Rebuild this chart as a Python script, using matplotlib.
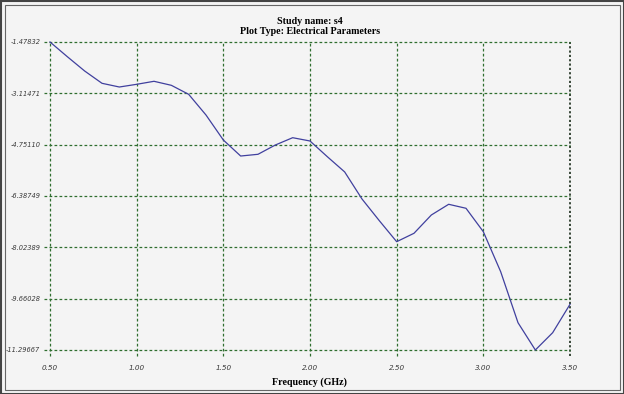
import numpy as np
import matplotlib
matplotlib.use('Agg')
import matplotlib.pyplot as plt
from matplotlib.patches import Rectangle

# Frequency sweep (GHz) and response
freq = [0.5, 0.6, 0.7, 0.8, 0.9, 1.0, 1.1, 1.2, 1.3, 1.4, 1.5,
        1.6, 1.7, 1.8, 1.9, 2.0, 2.1, 2.2, 2.3, 2.4, 2.5,
        2.6, 2.7, 2.8, 2.9, 3.0, 3.1, 3.2, 3.3, 3.4, 3.5]
value = [-1.478, -1.947, -2.403, -2.795, -2.913, -2.827, -2.731, -2.859, -3.146, -3.806, -4.603,
         -5.113, -5.058, -4.762, -4.529, -4.634, -5.135, -5.62, -6.483, -7.175, -7.844,
         -7.576, -6.993, -6.652, -6.779, -7.526, -8.80, -10.426, -11.29667, -10.745, -9.84]

xticks = [0.5, 1.0, 1.5, 2.0, 2.5, 3.0, 3.5]
xlabels = ['0.50', '1.00', '1.50', '2.00', '2.50', '3.00', '3.50']
yticks = [-1.47832, -3.11471, -4.75110, -6.38749, -8.02389, -9.66028, -11.29667]
ylabels = ['-1.47832', '-3.11471', '-4.75110', '-6.38749', '-8.02389', '-9.66028', '-11.29667']

bg = '#f4f4f4'
grid_col = '#2f6e2f'

fig = plt.figure(figsize=(6.24, 3.94), dpi=100, facecolor=bg)
ax = fig.add_axes([50/624, 1-350/394, 520/624, 308/394])
ax.set_facecolor(bg)

# double frame round the picture
fig.patches.append(Rectangle((0.5/624, 0.5/394), 623/624, 393/394, transform=fig.transFigure,
                             fill=False, edgecolor='#444444', linewidth=1.5))
fig.patches.append(Rectangle((4.5/624, 4.5/394), 615/624, 385/394, transform=fig.transFigure,
                             fill=False, edgecolor='#666666', linewidth=0.8))

ax.set_xlim(0.5, 3.5)
ax.set_ylim(yticks[-1], yticks[0])

for s in ax.spines.values():
    s.set_visible(False)

dots = (0, (2.2, 1.8))
for x in xticks[:-1]:
    ax.axvline(x, ymin=-0.018, ymax=1, color=grid_col, linestyle=dots, linewidth=0.9, clip_on=False)
ax.axvline(3.5, ymin=-0.018, ymax=1, color='#2a3a2a', linestyle=(0, (1.2, 1.2)), linewidth=1.3, clip_on=False)
for y in yticks:
    ax.axhline(y, xmin=-0.012, xmax=1, color=grid_col, linestyle=dots, linewidth=0.9, clip_on=False)

ax.plot(freq, value, color='#40409e', linewidth=0.9, clip_on=False, zorder=3)

ax.set_xticks(xticks)
ax.set_xticklabels(xlabels)
ax.set_yticks(yticks)
ax.set_yticklabels(ylabels)
ax.tick_params(length=0, labelsize=4.8, labelcolor='#3a3a3a')
ax.tick_params(axis='x', labelsize=5.2, pad=11)
ax.tick_params(axis='y', pad=7)
for t in ax.get_xticklabels() + ax.get_yticklabels():
    t.set_fontstyle('italic')

fig.text(310/624, 1-21/394, 'Study name: s4', ha='center', va='center',
         family='Liberation Serif', fontweight='bold', fontsize=7.2)
fig.text(310/624, 1-32/394, 'Plot Type: Electrical Parameters', ha='center', va='center',
         family='Liberation Serif', fontweight='bold', fontsize=7.2)
fig.text(310/624, 1-382/394, 'Frequency (GHz)', ha='center', va='center',
         family='Liberation Serif', fontweight='bold', fontsize=7.2)

fig.savefig('out.png', dpi=100, facecolor=bg)
